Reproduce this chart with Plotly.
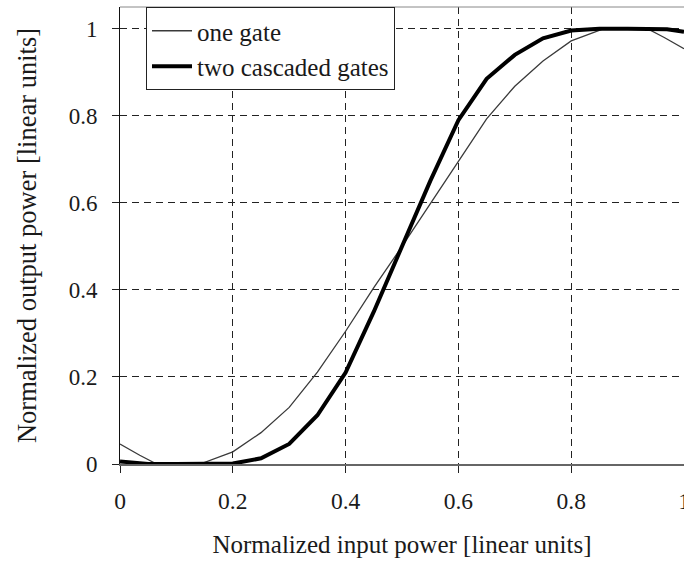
import plotly.graph_objects as go

# Normalized input power (x) and output power for each curve
x_one = [0.0, 0.035, 0.065, 0.1, 0.142, 0.2, 0.25, 0.3, 0.35, 0.4, 0.45, 0.5,
         0.55, 0.6, 0.65, 0.7, 0.75, 0.8, 0.858, 0.9, 0.935, 0.965, 1.0]
y_one = [0.046, 0.02, 0.0, 0.0, 0.0, 0.028, 0.072, 0.13, 0.211, 0.305, 0.405, 0.5,
         0.597, 0.697, 0.793, 0.868, 0.926, 0.972, 1.0, 1.0, 1.0, 0.98, 0.954]

x_two = [0.0, 0.03, 0.05, 0.1, 0.15, 0.2, 0.25, 0.3, 0.35, 0.4, 0.45, 0.5,
         0.55, 0.6, 0.65, 0.7, 0.75, 0.8, 0.85, 0.9, 0.95, 0.97, 1.0]
y_two = [0.006, 0.002, 0.0, 0.0, 0.0, 0.001, 0.013, 0.046, 0.112, 0.21, 0.35, 0.5,
         0.65, 0.79, 0.885, 0.94, 0.978, 0.996, 1.0, 1.0, 1.0, 0.999, 0.993]

names = ["one gate", "two cascaded gates"]
x_title = "Normalized input power [linear units]"
y_title = "Normalized output power [linear units]"

FONT = "Liberation Serif, Times New Roman, serif"
TXT = "#1a1a1a"

fig = go.Figure()
fig.add_trace(go.Scatter(x=x_one, y=y_one, mode="lines", name=names[0],
                         line=dict(color="#3a3a3a", width=1.3)))
fig.add_trace(go.Scatter(x=x_two, y=y_two, mode="lines", name=names[1],
                         line=dict(color="#000000", width=4)))

fig.update_layout(
    width=684, height=564,
    margin=dict(l=120, r=0, t=7, b=100, autoexpand=False),
    paper_bgcolor="white", plot_bgcolor="white",
    font=dict(family=FONT, size=23, color=TXT),
    showlegend=True,
    legend=dict(x=0.0461, y=1.0, xanchor="left", yanchor="top",
                bgcolor="white", bordercolor="#222", borderwidth=1,
                font=dict(family=FONT, size=25, color=TXT),
                tracegroupgap=0, itemwidth=40),
)

fig.update_xaxes(
    range=[0, 1], dtick=0.2, tick0=0, automargin=False,
    showgrid=True, gridcolor="#222", gridwidth=1, griddash="7px,5px",
    zeroline=False,
    showline=True, linecolor="#666", linewidth=2,
    ticks="outside", ticklen=7, tickcolor="#222", tickwidth=1,
    ticklabelstandoff=8, ticklabeloverflow="allow",
    tickfont=dict(family=FONT, size=23.5, color=TXT),
    title=dict(text=x_title, font=dict(family=FONT, size=25, color=TXT), standoff=22),
)
fig.update_yaxes(
    range=[0, 1.05], dtick=0.2, tick0=0, automargin=False,
    showgrid=True, gridcolor="#222", gridwidth=1, griddash="7px,5px",
    zeroline=False,
    showline=True, linecolor="#111", linewidth=1,
    ticks="outside", ticklen=7, tickcolor="#222", tickwidth=1,
    ticklabelstandoff=10,
    tickfont=dict(family=FONT, size=23, color=TXT),
    title=dict(text=y_title, font=dict(family=FONT, size=26.5, color=TXT), standoff=24),
)

# top frame line
fig.add_shape(type="line", xref="paper", yref="paper", x0=0, x1=1, y0=1, y1=1,
              line=dict(color="#888", width=1))

fig.write_html("out.html")
